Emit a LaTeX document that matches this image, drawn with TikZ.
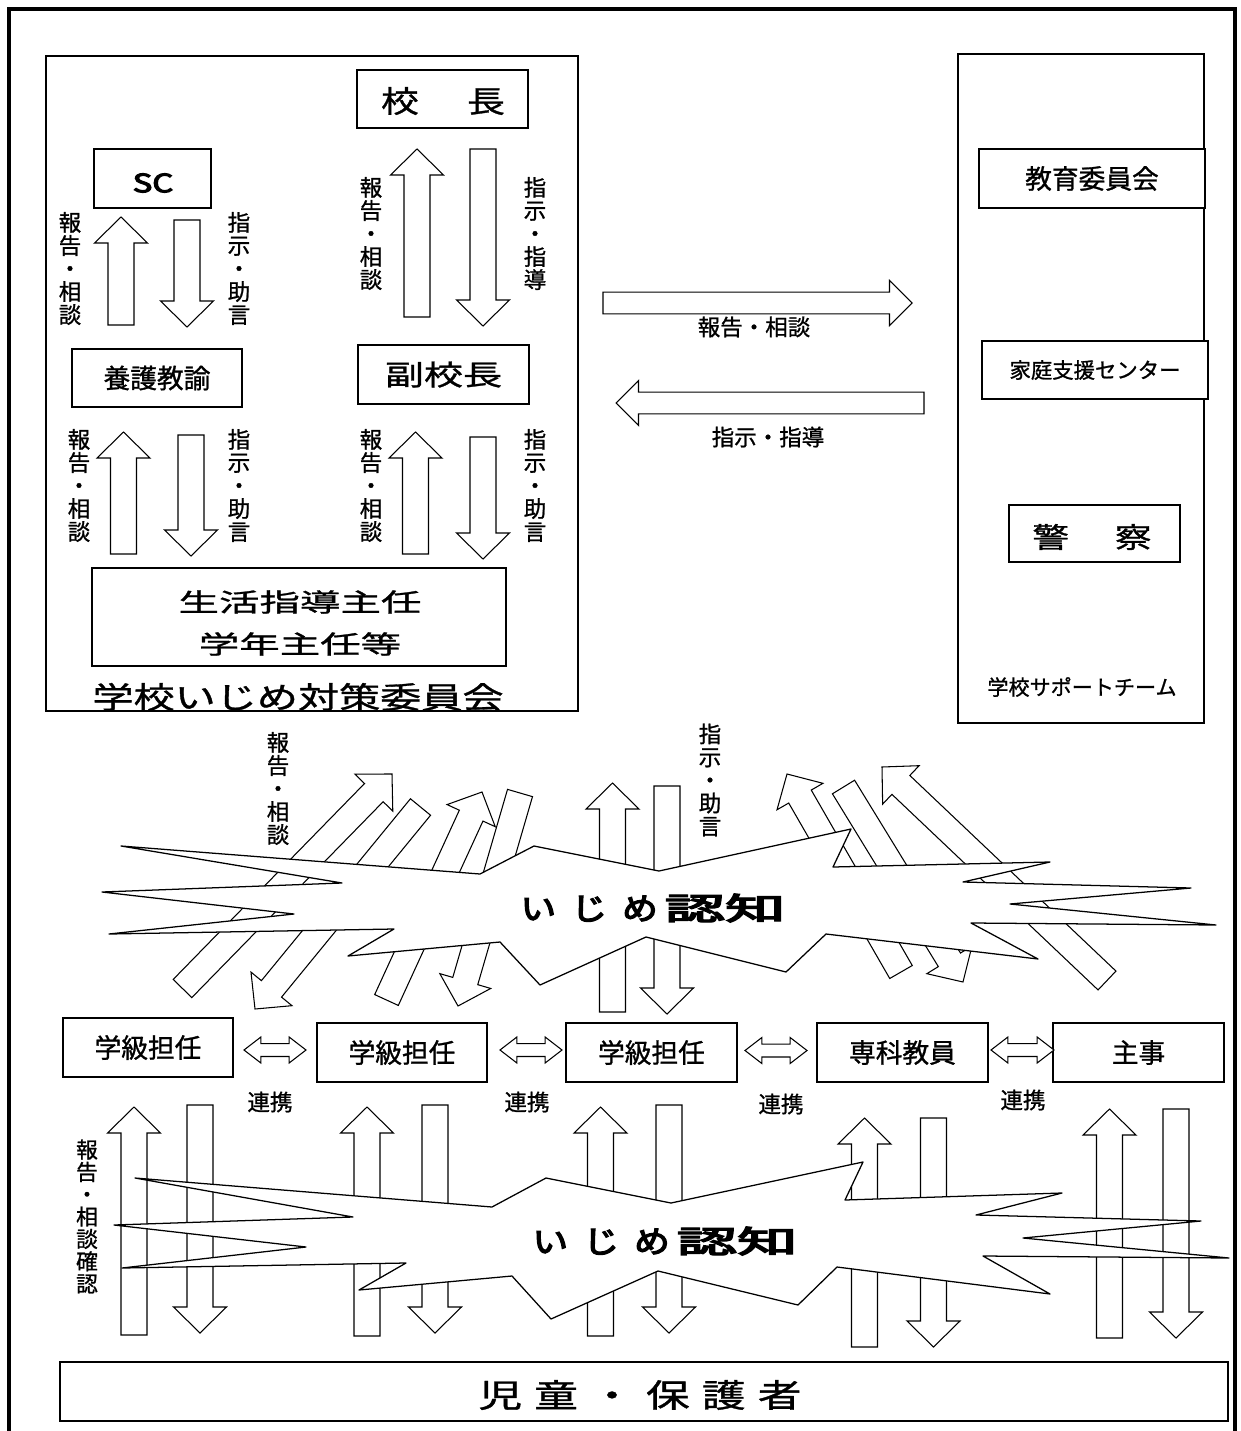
\documentclass[tikz,border=0pt]{standalone}
\usepackage{fontspec}
\setmainfont[FakeBold=1]{Noto Sans CJK JP}
\newfontfamily\heavyfont[FakeBold=4]{Noto Sans CJK JP}
\usetikzlibrary{calc}
% block arrow: name, tail, tip, half shaft, half head, head length
\newcommand{\mkarr}[6]{%
  \coordinate (#1-s) at (#2);
  \coordinate (#1-t) at (#3);
  \coordinate (#1-h) at ($(#1-t)!#6!(#1-s)$);
  \draw[blk] ($(#1-s)!#4!90:(#1-t)$) -- ($(#1-h)!#4!90:(#1-t)$) -- ($(#1-h)!#5!90:(#1-t)$) -- (#1-t)
    -- ($(#1-h)!#5!-90:(#1-t)$) -- ($(#1-h)!#4!-90:(#1-t)$) -- ($(#1-s)!#4!-90:(#1-t)$) -- cycle;}
\newcommand{\bigarr}[3]{\mkarr{#1}{#2}{#3}{9.25pt}{18.85pt}{18.5pt}}
\newcommand{\widearr}[3]{\mkarr{#1}{#2}{#3}{7.8pt}{16pt}{16pt}}
\newcommand{\dblarr}[3]{%
  \coordinate (#1-a) at (#2);
  \coordinate (#1-b) at (#3);
  \coordinate (#1-ha) at ($(#1-a)!12pt!(#1-b)$);
  \coordinate (#1-hb) at ($(#1-b)!12pt!(#1-a)$);
  \draw[blk] (#1-a) -- ($(#1-ha)!9.25pt!90:(#1-b)$) -- ($(#1-ha)!4.6pt!90:(#1-b)$)
    -- ($(#1-hb)!4.6pt!-90:(#1-a)$) -- ($(#1-hb)!9.25pt!-90:(#1-a)$) -- (#1-b)
    -- ($(#1-hb)!9.25pt!90:(#1-a)$) -- ($(#1-hb)!4.6pt!90:(#1-a)$)
    -- ($(#1-ha)!4.6pt!-90:(#1-b)$) -- ($(#1-ha)!9.25pt!-90:(#1-b)$) -- cycle;}
\newcommand{\ninchi}{\scalebox{1.15}[1]{い\hspace{.43em}じ\hspace{.43em}め}\hspace{5pt}\scalebox{1.95}[1]{認知}}

\begin{document}
\begin{tikzpicture}[x=0.25mm,y=-0.25mm]
    \tikzset{box/.style={draw, line width=0.9pt, fill=white, inner sep=0pt},
             blk/.style={draw, line width=0.75pt, fill=white},
             blast/.style={draw, line width=0.9pt, fill=white, line join=round},
             txt/.style={inner sep=0pt, font=\fontsize{19}{23}\selectfont},
             sm/.style={inner sep=0pt, align=center, font=\fontsize{16}{16.4}\selectfont}}
    %\draw[help lines] (0,0) grid[step=100] (1240,1431);
    \useasboundingbox (0,0) rectangle (1240,1431);
    \draw[line width=2.2pt] (9,1440) |- (1235,9) -- (1235,1440);

    % committee
    \node[box, minimum width=133mm, minimum height=163.75mm] (iinkai) at (312,383.5) {};
    \node[box, minimum width=42.75mm, minimum height=14.5mm] (kocho) at (442.5,99) {};
    \node[txt, font=\fontsize{21.5}{24}\selectfont] (kochoT) at (443,101) {\scalebox{1.25}[1]{校\hspace{1.28em}長}};
    \node[box, minimum width=29.25mm, minimum height=14.75mm] (sc) at (152.5,178.5) {};
    \node[inner sep=0pt, font=\heavyfont\fontsize{18}{20}\selectfont] (scT) at (153,183) {\scalebox{1.3}[1]{SC}};
    \node[box, txt, minimum width=42.5mm, minimum height=14.5mm] (yogo) at (157,378) {養護教諭};
    \node[box, txt, font=\fontsize{20}{23}\selectfont, minimum width=42.75mm, minimum height=14.75mm] (fuku) at (443.5,374.5) {\scalebox{1.39}[1]{副校長}};
    \node[box, minimum width=103.5mm, minimum height=24.5mm] (seikatsu) at (299,617) {};
    \node[txt, align=center, font=\fontsize{18}{29.9}\selectfont] (seikatsuT) at (300,623) {\scalebox{1.6}[1]{生活指導主任}\\\scalebox{1.6}[1]{学年主任等}};
    \node[txt, font=\fontsize{21.5}{23}\selectfont] (iinkaiT) at (298,697) {\scalebox{1.36}[1]{学校いじめ対策委員会}};

    \bigarr{scup}{121,325}{121,217}
    \bigarr{scdn}{187,220}{187,327}
    \bigarr{kcup}{417,317}{417,149}
    \bigarr{kcdn}{483,149}{483,326}
    \bigarr{ygup}{123.5,554}{123.5,432}
    \bigarr{ygdn}{191,435}{191,556}
    \bigarr{fkup}{415.5,554}{415.5,432}
    \bigarr{fkdn}{483,437}{483,559}
    \node[sm] (l1) at (70,268.5) {報\\告\\・\\相\\談};
    \node[sm] (l2) at (239,268.5) {指\\示\\・\\助\\言};
    \node[sm] (l3) at (371,233.5) {報\\告\\・\\相\\談};
    \node[sm] (l4) at (535,233.5) {指\\示\\・\\指\\導};
    \node[sm] (l5) at (79,485.5) {報\\告\\・\\相\\談};
    \node[sm] (l6) at (239,485.5) {指\\示\\・\\助\\言};
    \node[sm] (l7) at (371,485.5) {報\\告\\・\\相\\談};
    \node[sm] (l8) at (535,485.5) {指\\示\\・\\助\\言};

    % support team
    \node[box, minimum width=61.5mm, minimum height=167.25mm] (team) at (1081,388.5) {};
    \node[box, txt, minimum width=56.5mm, minimum height=14.75mm] (kyoiku) at (1092,178.5) {教育委員会};
    \node[box, txt, font=\fontsize{15.2}{18}\selectfont, minimum width=56.5mm, minimum height=14.5mm] (katei) at (1095,370) {家庭支援センター};
    \node[box, minimum width=42.75mm, minimum height=14.25mm] (keisatsu) at (1094.5,533.5) {};
    \node[txt, font=\fontsize{20}{23}\selectfont] (keisatsuT) at (1092,537) {\scalebox{1.3}[1]{警\hspace{1.26em}察}};
    \node[txt, font=\fontsize{15}{18}\selectfont] (teamT) at (1082,687) {学校サポートチーム};

    \widearr{toteam}{603,303}{912,303}
    \widearr{fromteam}{924,403}{616,403}
    \node[sm] (l9) at (754,327) {報告・相談};
    \node[sm] (l10) at (768,437) {指示・指導};

    % upper arrows and burst
    \bigarr{mdup}{612.5,1012}{612.5,783}
    \bigarr{mddn}{667,786}{667,1014}
    \bigarr{ua}{182.5,988.5}{392,774}
    \bigarr{db}{420.5,807}{255,1009}
    \bigarr{uc}{386.5,1000}{482,792}
    \bigarr{dd}{520,793}{458,1006}
    \bigarr{ue}{901,972}{787,774}
    \bigarr{df}{843.5,787}{963,982}
    \bigarr{ug}{1107,980.5}{882,767}
    \draw[blast] (121,846) -- (480,874) -- (534,846) -- (659,871) -- (851,829) -- (833,867)
      -- (1050,862) -- (963,882) -- (1191,888) -- (1010,904) -- (1216,925) -- (971,923)
      -- (1038,959) -- (826,934) -- (786,972) -- (646,937) -- (540,985) -- (500,942)
      -- (348,956) -- (394,929) -- (109,934) -- (294,914) -- (102,892) -- (342,883) -- cycle;
    \node[inner sep=0pt, font=\heavyfont\fontsize{22}{24}\selectfont] (ninchi1) at (653,908) {\ninchi};
    \node[sm] (l11) at (278,788.5) {報\\告\\・\\相\\談};
    \node[sm] (l12) at (710,780) {指\\示\\・\\助\\言};

    % teachers
    \node[box, txt, minimum width=42.5mm, minimum height=14.75mm] (k1) at (148,1047.5) {学級担任};
    \node[box, txt, minimum width=42.5mm, minimum height=14.75mm] (k2) at (402,1052.5) {学級担任};
    \node[box, txt, minimum width=42.75mm, minimum height=14.75mm] (k3) at (651.5,1052.5) {学級担任};
    \node[box, txt, minimum width=42.75mm, minimum height=14.75mm] (senka) at (902.5,1052.5) {専科教員};
    \node[box, txt, minimum width=42.75mm, minimum height=14.75mm] (shuji) at (1138.5,1052.5) {主事};
    \dblarr{d1}{244,1050}{306,1050}
    \dblarr{d2}{500,1050}{562,1050}
    \dblarr{d3}{745,1050.5}{807,1050.5}
    \dblarr{d4}{991,1050}{1054,1050}
    \node[sm] (r1) at (270,1102) {連携};
    \node[sm] (r2) at (527,1102) {連携};
    \node[sm] (r3) at (781,1104) {連携};
    \node[sm] (r4) at (1023,1100) {連携};

    % lower arrows and burst
    \bigarr{p1up}{134,1335}{134,1107}
    \bigarr{p1dn}{200,1105}{200,1333}
    \bigarr{p2up}{367,1336}{367,1107}
    \bigarr{p2dn}{435,1105}{435,1333}
    \bigarr{p3up}{600.5,1336}{600.5,1107}
    \bigarr{p3dn}{669,1105}{669,1333}
    \bigarr{p4up}{864.5,1347}{864.5,1118}
    \bigarr{p4dn}{933.5,1118}{933.5,1347}
    \bigarr{p5up}{1109.5,1338}{1109.5,1109}
    \bigarr{p5dn}{1176,1109}{1176,1338}
    \draw[blast] (546,1178) -- (671,1203) -- (863,1162) -- (845,1200) -- (1062,1193) -- (976,1215)
      -- (1201,1221) -- (1023,1238) -- (1229,1258) -- (983,1256) -- (1050,1294) -- (837,1267)
      -- (798,1305) -- (658,1271) -- (551,1319) -- (512,1276) -- (359,1290) -- (406,1263)
      -- (122,1268) -- (306,1247) -- (114,1225) -- (353,1217) -- (135,1178) -- (492,1207) -- cycle;
    \node[inner sep=0pt, font=\heavyfont\fontsize{22}{24}\selectfont] (ninchi2) at (665,1241) {\ninchi};
    \node[align=center, inner sep=0pt, font=\fontsize{15.5}{15.9}\selectfont] (l13) at (87,1216.5) {報\\告\\・\\相\\談\\確\\認};

    % pupils
    \node[box, minimum width=292mm, minimum height=14.75mm] (jido) at (644,1391.5) {};
    \node[txt, font=\fontsize{23}{25}\selectfont] (jidoT) at (640,1395)
      {\scalebox{1.35}[1]{児\hspace{.28em}童\hspace{.28em}・\hspace{.28em}保\hspace{.28em}護\hspace{.28em}者}};
\end{tikzpicture}
\end{document}
